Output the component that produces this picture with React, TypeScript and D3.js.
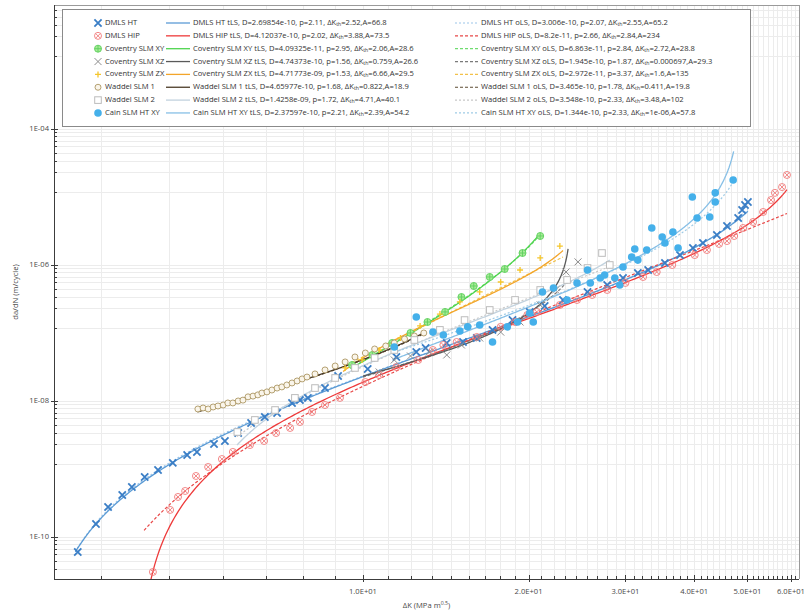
import React from "react";
import * as d3 from "d3";

const WIDTH = 807;
const HEIGHT = 614;
const PLOT = { left: 54, right: 799, top: 5, bottom: 579 };

// Axis domains (log scales)
const xDomain: [number, number] = [2.743, 62.05];
const yDomain: [number, number] = [2.41e-11, 6.66e-3];

const xTickValues = [10, 20, 30, 40, 50, 60];
const xTickLabels = ["1.0E+01", "2.0E+01", "3.0E+01", "4.0E+01", "5.0E+01", "6.0E+01"];
const yTickValues = [1e-4, 1e-6, 1e-8, 1e-10];
const yTickLabels = ["1E-04", "1E-06", "1E-08", "1E-10"];

// Measured crack growth data: [ΔK (MPa m^0.5), da/dN (m/cycle)]
const dmlsHt: [number, number][] = [
  [3.03, 6.0e-11], [3.27, 1.55e-10], [3.44, 2.76e-10], [3.65, 4.15e-10], [3.8, 5.44e-10],
  [4.01, 7.63e-10], [4.24, 9.67e-10], [4.51, 1.23e-9], [4.79, 1.61e-9], [4.99, 1.78e-9],
  [5.36, 2.33e-9], [5.61, 2.58e-9], [5.93, 3.38e-9], [6.26, 4.75e-9], [6.63, 5.82e-9],
  [6.98, 6.66e-9], [7.43, 9.35e-9], [7.68, 1.03e-8], [7.94, 1.11e-8], [8.53, 1.55e-8],
  [9.01, 2.33e-8], [10.2, 2.96e-8], [11.5, 4.44e-8], [12.5, 5.26e-8], [13.0, 6.02e-8],
  [14.2, 7.13e-8], [15.2, 7.37e-8], [16.1, 8.44e-8], [17.2, 1.11e-7], [18.7, 1.55e-7],
  [20.1, 2.04e-7], [21.4, 2.5e-7], [23.1, 3.06e-7], [25.6, 4.01e-7], [27.8, 5.08e-7],
  [29.7, 6.44e-7], [31.6, 7.63e-7], [33.0, 8.44e-7], [35.4, 1.07e-6], [37.7, 1.4e-6],
  [39.8, 1.78e-6], [41.5, 2.11e-6], [44.0, 2.76e-6], [45.9, 3.75e-6], [48.1, 4.91e-6],
  [48.9, 6.44e-6], [49.5, 7.63e-6], [50.1, 8.44e-6],
];

const dmlsHip: [number, number][] = [
  [4.15, 3.06e-11], [4.46, 2.5e-10], [4.61, 3.88e-10], [4.75, 4.75e-10], [4.97, 7.89e-10],
  [5.23, 1.07e-9], [5.54, 1.4e-9], [5.8, 1.78e-9], [6.23, 2.25e-9], [6.61, 2.58e-9],
  [6.95, 3.38e-9], [7.37, 4.01e-9], [7.68, 4.91e-9], [8.08, 6.89e-9], [8.53, 8.73e-9],
  [9.08, 1.11e-8], [10.1, 1.9e-8], [10.7, 2.41e-8], [11.5, 3.16e-8], [12.6, 4.01e-8],
  [13.4, 5.62e-8], [14.0, 6.66e-8], [14.8, 7.37e-8], [16.1, 8.73e-8], [17.8, 1.23e-7],
  [18.9, 1.45e-7], [19.9, 1.84e-7], [20.7, 2.04e-7], [22.8, 2.58e-7], [24.5, 3.06e-7],
  [26.1, 3.62e-7], [27.8, 4.29e-7], [30.0, 5.44e-7], [32.3, 6.66e-7], [34.2, 7.89e-7],
  [36.5, 1.0e-6], [40.1, 1.4e-6], [42.2, 1.66e-6], [44.4, 2.04e-6], [45.9, 2.25e-6],
  [47.3, 2.67e-6], [49.1, 3.5e-6], [51.2, 4.29e-6], [53.4, 6.02e-6], [55.2, 9.03e-6],
  [56.1, 1.15e-5], [57.8, 1.4e-5], [59.0, 2.11e-5],
];

const coventryXY: [number, number][] = [
  [9.55, 3.38e-8], [10.4, 4.75e-8], [11.3, 7.13e-8], [12.2, 1.0e-7], [13.1, 1.45e-7],
  [14.1, 2.04e-7], [15.1, 3.38e-7], [15.9, 4.91e-7], [17.0, 6.66e-7], [18.1, 8.73e-7],
  [19.5, 1.5e-6], [21.0, 2.67e-6],
];

const coventryXZ: [number, number][] = [
  [10.7, 2.67e-8], [11.4, 4.01e-8], [12.2, 4.59e-8], [13.2, 5.26e-8], [14.2, 4.75e-8],
  [15.1, 6.66e-8], [16.3, 8.44e-8], [17.8, 1.03e-7], [19.3, 1.45e-7], [21.0, 2.58e-7],
  [22.4, 4.29e-7], [23.4, 7.89e-7], [24.6, 1.11e-6],
];

const coventryZX: [number, number][] = [
  [9.28, 3.06e-8], [9.96, 4.01e-8], [10.7, 5.62e-8], [11.7, 8.44e-8], [12.7, 1.27e-7],
  [13.8, 1.9e-7], [15.0, 2.86e-7], [16.3, 4.01e-7], [17.8, 5.62e-7], [19.3, 8.44e-7],
  [21.0, 1.27e-6], [22.8, 1.9e-6],
];

const waddel1: [number, number][] = [
  [5.01, 7.63e-9], [5.12, 7.89e-9], [5.23, 7.63e-9], [5.34, 8.16e-9], [5.45, 8.44e-9],
  [5.57, 8.73e-9], [5.68, 9.35e-9], [5.8, 9.35e-9], [5.93, 1.0e-8], [6.05, 1.03e-8],
  [6.18, 1.15e-8], [6.31, 1.18e-8], [6.44, 1.23e-8], [6.55, 1.31e-8], [6.69, 1.36e-8],
  [6.83, 1.45e-8], [6.98, 1.55e-8], [7.12, 1.61e-8], [7.27, 1.72e-8], [7.43, 1.84e-8],
  [7.59, 1.97e-8], [7.75, 2.11e-8], [7.91, 2.25e-8], [8.18, 2.5e-8], [8.53, 2.86e-8],
  [8.9, 3.27e-8], [9.28, 3.75e-8], [9.67, 4.44e-8], [10.1, 5.08e-8], [10.5, 5.82e-8],
  [11.0, 6.44e-8], [11.4, 7.13e-8], [11.9, 8.16e-8], [12.4, 9.03e-8], [12.9, 1.0e-7],
];

const waddel2: [number, number][] = [
  [5.91, 3.5e-9], [6.36, 5.26e-9], [6.92, 7.37e-9], [7.52, 1.11e-8], [8.18, 1.55e-8],
  [8.9, 2.18e-8], [9.67, 3.06e-8], [10.5, 4.29e-8], [11.4, 5.62e-8], [12.4, 7.89e-8],
  [13.8, 1.11e-7], [15.3, 1.55e-7], [17.0, 2.18e-7], [18.9, 3.06e-7], [21.0, 4.29e-7],
  [23.5, 6.02e-7], [25.6, 9.03e-7], [27.2, 1.5e-6], [28.1, 1.0e-6],
];

const cainXY: [number, number][] = [
  [11.4, 6.22e-8], [12.5, 1.72e-7], [13.4, 1.03e-7], [14.0, 9.35e-8], [15.0, 1.07e-7],
  [15.5, 1.23e-7], [16.3, 1.31e-7], [17.2, 7.37e-8], [18.3, 1.23e-7], [19.1, 1.45e-7],
  [20.1, 1.97e-7], [20.4, 1.45e-7], [21.2, 4.01e-7], [22.2, 4.59e-7], [23.5, 3.06e-7],
  [24.5, 5.44e-7], [25.6, 8.44e-7], [25.9, 5.44e-7], [27.0, 6.44e-7], [27.5, 7.13e-7],
  [28.7, 6.44e-7], [29.3, 5.08e-7], [29.7, 9.35e-7], [30.8, 1.31e-6], [31.2, 1.72e-6],
  [31.6, 1.18e-6], [32.8, 1.66e-6], [33.5, 3.5e-6], [35.0, 2.58e-6], [35.4, 2.11e-6],
  [36.6, 3.06e-6], [37.4, 1.78e-6], [39.7, 1.0e-5], [40.5, 4.91e-6], [42.7, 5.08e-6],
  [43.7, 1.15e-5], [43.7, 8.44e-6], [47.1, 1.78e-5],
];

// Series names and Hartman-Schijve fit parameters (tLS and oLS)
const seriesNames = [
  "DMLS HT", "DMLS HIP", "Coventry SLM XY", "Coventry SLM XZ",
  "Coventry SLM ZX", "Waddel SLM 1", "Waddel SLM 2", "Cain SLM HT XY",
];
const tlsD = ["2.69854e-10", "4.12037e-10", "4.09325e-11", "4.74373e-10", "4.71773e-09", "4.65977e-10", "1.4258e-09", "2.37597e-10"];
const tlsP = ["2.11", "2.02", "2.95", "1.56", "1.53", "1.68", "1.72", "2.21"];
const tlsTh = ["2.52", "3.88", "2.06", "0.759", "6.66", "0.822", "4.71", "2.39"];
const tlsA = ["66.8", "73.5", "28.6", "26.6", "29.5", "18.9", "40.1", "54.2"];
const olsD = ["3.006e-10", "8.2e-11", "6.863e-11", "1.945e-10", "2.972e-11", "3.465e-10", "3.548e-10", "1.344e-10"];
const olsP = ["2.07", "2.66", "2.84", "1.87", "3.37", "1.78", "2.33", "2.33"];
const olsTh = ["2.55", "2.84", "2.72", "0.000697", "1.6", "0.411", "3.48", "1e-06"];
const olsA = ["65.2", "234", "28.8", "29.3", "135", "19.8", "102", "57.8"];
// ΔK span covered by each fitted curve
const fitKMin = [3.0, 4.0, 9.5, 10.0, 9.2, 5.0, 5.9, 11.4];
const fitKMax = [50.1, 59.0, 21.0, 23.6, 23.1, 12.9, 28.1, 47.2];
const stressRatio = 0.1;

const seriesData = [dmlsHt, dmlsHip, coventryXY, coventryXZ, coventryZX, waddel1, waddel2, cainXY];

type Style = {
  marker: string;
  mColor: string;
  mFill: string;
  tColor: string;
  oColor: string;
  oDash: string;
};
const styles: Style[] = [
  { marker: "x", mColor: "#3a7ec6", mFill: "none", tColor: "#5b9bd5", oColor: "#9cc6ea", oDash: "2,2" },
  { marker: "otimes", mColor: "#f07878", mFill: "none", tColor: "#ee3a3a", oColor: "#e84848", oDash: "3,2" },
  { marker: "oplus", mColor: "#5fd05f", mFill: "#a8eb98", tColor: "#4fd44f", oColor: "#6fdc6f", oDash: "3,2" },
  { marker: "cross", mColor: "#8c8c8c", mFill: "none", tColor: "#5a5a5a", oColor: "#7a7a7a", oDash: "3,2" },
  { marker: "plus", mColor: "#f5c62c", mFill: "none", tColor: "#f3a52a", oColor: "#f2c14a", oDash: "3,2" },
  { marker: "circle", mColor: "#ad9764", mFill: "#faf5ea", tColor: "#4c3c28", oColor: "#5e4c33", oDash: "3,2" },
  { marker: "square", mColor: "#bcbcbc", mFill: "#ffffff", tColor: "#c2d2de", oColor: "#c8c8c8", oDash: "2,2" },
  { marker: "dot", mColor: "#45b0ea", mFill: "#45b0ea", tColor: "#86bfe6", oColor: "#9fcbe6", oDash: "2,2" },
];

const x = d3.scaleLog().domain(xDomain).range([PLOT.left, PLOT.right]);
const y = d3.scaleLog().domain(yDomain).range([PLOT.bottom, PLOT.top]);

// Hartman-Schijve: da/dN = D [ (ΔK - ΔKth) / sqrt(1 - Kmax/A) ]^p, Kmax = ΔK/(1-R)
function fitCurve(D: number, p: number, th: number, A: number, k0: number, k1: number) {
  const pts: [number, number][] = [];
  const n = 300;
  for (let i = 0; i <= n; i++) {
    const k = k0 * Math.pow(k1 / k0, i / n);
    const denom = 1 - k / (1 - stressRatio) / A;
    if (k <= th || denom <= 0) continue;
    pts.push([k, D * Math.pow((k - th) / Math.sqrt(denom), p)]);
  }
  return pts;
}

// Minor ticks: each major interval split into 9 equal linear steps
function xMinorTicks() {
  const out: number[] = [];
  const majors = [0, 10, 20, 30, 40, 50, 60, 70];
  for (let i = 0; i < majors.length - 1; i++) {
    for (let k = 1; k <= 8; k++) {
      const v = majors[i] + ((majors[i + 1] - majors[i]) * k) / 9;
      if (v >= xDomain[0] && v <= xDomain[1]) out.push(v);
    }
  }
  return out;
}
function yMinorTicks() {
  const out: number[] = [];
  const majors = [1e-12, 1e-10, 1e-8, 1e-6, 1e-4, 1e-2];
  for (let i = 0; i < majors.length - 1; i++) {
    for (let k = 1; k <= 8; k++) {
      const v = majors[i] + ((majors[i + 1] - majors[i]) * k) / 9;
      if (v >= yDomain[0] && v <= yDomain[1]) out.push(v);
    }
  }
  return out;
}

function Marker({ type, cx, cy, color, fill }: { type: string; cx: number; cy: number; color: string; fill: string }) {
  switch (type) {
    case "x": {
      const s = 3.6;
      return (
        <path d={`M${cx - s},${cy - s}L${cx + s},${cy + s}M${cx - s},${cy + s}L${cx + s},${cy - s}`} stroke={color} strokeWidth={1.8} fill="none" />
      );
    }
    case "otimes": {
      const r = 3.5;
      const s = 2.2;
      return (
        <g stroke={color} strokeWidth={0.9} fill="none">
          <circle cx={cx} cy={cy} r={r} />
          <path d={`M${cx - s},${cy - s}L${cx + s},${cy + s}M${cx - s},${cy + s}L${cx + s},${cy - s}`} />
        </g>
      );
    }
    case "oplus": {
      const r = 3.5;
      return (
        <g stroke={color} strokeWidth={0.9}>
          <circle cx={cx} cy={cy} r={r} fill={fill} />
          <path d={`M${cx - r},${cy}L${cx + r},${cy}M${cx},${cy - r}L${cx},${cy + r}`} fill="none" />
        </g>
      );
    }
    case "cross": {
      const s = 3.5;
      return (
        <path d={`M${cx - s},${cy - s}L${cx + s},${cy + s}M${cx - s},${cy + s}L${cx + s},${cy - s}`} stroke={color} strokeWidth={1} fill="none" />
      );
    }
    case "plus": {
      const s = 3;
      return (
        <path d={`M${cx - s},${cy}L${cx + s},${cy}M${cx},${cy - s}L${cx},${cy + s}`} stroke={color} strokeWidth={1.3} fill="none" />
      );
    }
    case "circle":
      return <circle cx={cx} cy={cy} r={3} stroke={color} strokeWidth={0.9} fill={fill} />;
    case "square":
      return <rect x={cx - 3.3} y={cy - 3.3} width={6.6} height={6.6} stroke={color} strokeWidth={1} fill={fill} />;
    default:
      return <circle cx={cx} cy={cy} r={3.8} fill={fill} stroke="none" />;
  }
}

const LEGEND_FONT = 7.6;

function FitLabel({ xPos, yPos, name, kind, D, p, th, A }: { xPos: number; yPos: number; name: string; kind: string; D: string; p: string; th: string; A: string }) {
  return (
    <text x={xPos} y={yPos} fontSize={LEGEND_FONT} fill="#333" dominantBaseline="middle">
      {`${name} ${kind}, D=${D}, p=${p}, ΔK`}
      <tspan fontSize={5.2} dy={2}>th</tspan>
      <tspan dy={-2}>{`=${th},A=${A}`}</tspan>
    </text>
  );
}

export default function App() {
  const line = d3
    .line<[number, number]>()
    .x((d) => x(d[0]))
    .y((d) => y(d[1]));

  const xMinor = xMinorTicks();
  const yMinor = yMinorTicks();
  const legendRowY = (i: number) => 23 + i * 12.85;

  return (
    <svg width={WIDTH} height={HEIGHT} style={{ display: "block", position: "absolute", left: 0, top: 0, fontFamily: "'Open Sans', 'Noto Sans', sans-serif" }}>
      <defs>
        <clipPath id="plotClip">
          <rect x={PLOT.left} y={PLOT.top} width={PLOT.right - PLOT.left} height={PLOT.bottom - PLOT.top} />
        </clipPath>
      </defs>
      <rect x={0} y={0} width={WIDTH} height={HEIGHT} fill="#ffffff" />

      {/* grid */}
      <g stroke="#ececec" strokeWidth={1}>
        {[...xMinor, ...xTickValues].map((v, i) => (
          <line key={`gx${i}`} x1={Math.round(x(v)) + 0.5} x2={Math.round(x(v)) + 0.5} y1={PLOT.top} y2={PLOT.bottom} />
        ))}
        {[...yMinor, ...yTickValues].map((v, i) => (
          <line key={`gy${i}`} y1={Math.round(y(v)) + 0.5} y2={Math.round(y(v)) + 0.5} x1={PLOT.left} x2={PLOT.right} />
        ))}
      </g>

      {/* frame */}
      <line x1={PLOT.left} x2={PLOT.right} y1={PLOT.top + 0.5} y2={PLOT.top + 0.5} stroke="#9a9a9a" />
      <line x1={PLOT.right + 0.5} x2={PLOT.right + 0.5} y1={PLOT.top} y2={PLOT.bottom} stroke="#9a9a9a" />

      {/* fitted curves */}
      <g clipPath="url(#plotClip)" fill="none">
        {seriesNames.map((name, i) => {
          const t = fitCurve(+tlsD[i], +tlsP[i], +tlsTh[i], +tlsA[i], fitKMin[i], fitKMax[i]);
          const o = fitCurve(+olsD[i], +olsP[i], +olsTh[i], +olsA[i], fitKMin[i], fitKMax[i]);
          return (
            <g key={name}>
              <path d={line(o) || ""} stroke={styles[i].oColor} strokeWidth={1.2} strokeDasharray={styles[i].oDash} />
              <path d={line(t) || ""} stroke={styles[i].tColor} strokeWidth={1.3} />
            </g>
          );
        })}
      </g>

      {/* data markers */}
      <g clipPath="url(#plotClip)">
        {seriesData.map((data, i) => (
          <g key={seriesNames[i]}>
            {data.map((d, j) => (
              <Marker key={j} type={styles[i].marker} cx={x(d[0])} cy={y(d[1])} color={styles[i].mColor} fill={styles[i].mFill} />
            ))}
          </g>
        ))}
      </g>

      {/* axes */}
      <line x1={PLOT.left + 0.5} x2={PLOT.left + 0.5} y1={PLOT.top} y2={PLOT.bottom} stroke="#3c3c3c" />
      <line x1={PLOT.left} x2={PLOT.right} y1={PLOT.bottom + 0.5} y2={PLOT.bottom + 0.5} stroke="#3c3c3c" />
      <g stroke="#3c3c3c" strokeWidth={1}>
        {xMinor.map((v, i) => (
          <line key={`tx${i}`} x1={Math.round(x(v)) + 0.5} x2={Math.round(x(v)) + 0.5} y1={PLOT.bottom - 3} y2={PLOT.bottom} />
        ))}
        {xTickValues.map((v, i) => (
          <line key={`TX${i}`} x1={Math.round(x(v)) + 0.5} x2={Math.round(x(v)) + 0.5} y1={PLOT.bottom - 4} y2={PLOT.bottom + 3} />
        ))}
        {yMinor.map((v, i) => (
          <line key={`ty${i}`} y1={Math.round(y(v)) + 0.5} y2={Math.round(y(v)) + 0.5} x1={PLOT.left} x2={PLOT.left + 3} />
        ))}
        {yTickValues.map((v, i) => (
          <line key={`TY${i}`} y1={Math.round(y(v)) + 0.5} y2={Math.round(y(v)) + 0.5} x1={PLOT.left - 3} x2={PLOT.left + 4} />
        ))}
      </g>
      <g fontSize={7.6} fill="#4a4a4a">
        {xTickValues.map((v, i) => (
          <text key={`lx${i}`} x={x(v)} y={594} textAnchor="middle">{xTickLabels[i]}</text>
        ))}
        {yTickValues.map((v, i) => (
          <text key={`ly${i}`} x={49} y={y(v)} textAnchor="end" dominantBaseline="middle">{yTickLabels[i]}</text>
        ))}
      </g>
      <text x={(PLOT.left + PLOT.right) / 2} y={608} fontSize={7.6} fill="#4a4a4a" textAnchor="middle">
        ΔK (MPa m<tspan fontSize={5.2} dy={-3}>0.5</tspan><tspan dy={3}>)</tspan>
      </text>
      <text transform={`translate(18,${(PLOT.top + PLOT.bottom) / 2}) rotate(-90)`} fontSize={7.6} fill="#4a4a4a" textAnchor="middle">
        da/dN (m/cycle)
      </text>

      {/* legend */}
      <rect x={62.5} y={9.5} width={688} height={117} fill="#ffffff" stroke="#8a8a8a" strokeWidth={1} />
      {seriesNames.map((name, i) => {
        const ry = legendRowY(i);
        const st = styles[i];
        return (
          <g key={`leg${i}`}>
            <Marker type={st.marker} cx={98} cy={ry} color={st.mColor} fill={st.mFill} />
            <text x={105} y={ry} fontSize={LEGEND_FONT} fill="#333" dominantBaseline="middle">{name}</text>
            <line x1={166} x2={190} y1={ry} y2={ry} stroke={st.tColor} strokeWidth={1.3} />
            <FitLabel xPos={193} yPos={ry} name={name} kind="tLS" D={tlsD[i]} p={tlsP[i]} th={tlsTh[i]} A={tlsA[i]} />
            <line x1={455} x2={478} y1={ry} y2={ry} stroke={st.oColor} strokeWidth={1.2} strokeDasharray={st.oDash} />
            <FitLabel xPos={481} yPos={ry} name={name} kind="oLS" D={olsD[i]} p={olsP[i]} th={olsTh[i]} A={olsA[i]} />
          </g>
        );
      })}
    </svg>
  );
}
